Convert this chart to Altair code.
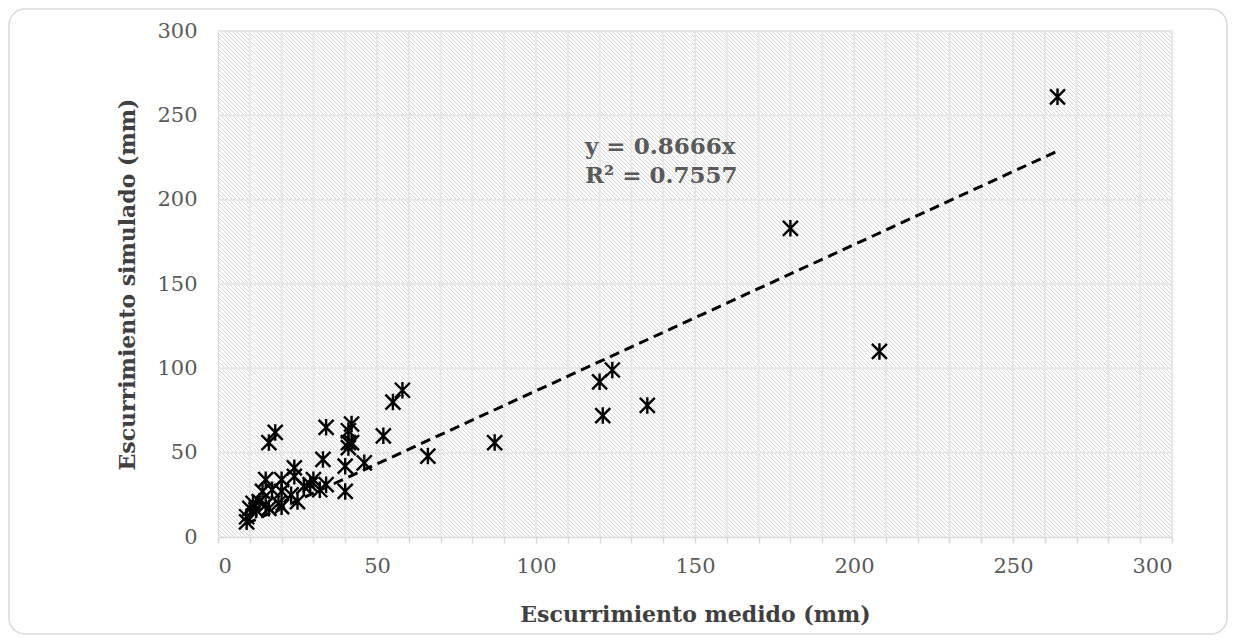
import altair as alt
import pandas as pd
import numpy as np

# Data
medido = [264, 180, 208, 120, 124, 121, 135, 87, 66, 58, 55, 52, 34, 42, 41, 41, 42, 41,
          33, 40, 46, 40, 18, 16, 24, 30, 34, 32, 24, 20, 15, 25, 23, 17, 14, 19, 16, 20,
          13, 11, 10, 9, 9, 12, 15, 20, 27, 29]
simulado = [261, 183, 110, 92, 99, 72, 78, 56, 48, 87, 80, 60, 65, 67, 63, 56, 56, 53,
            46, 42, 44, 27, 62, 56, 41, 34, 31, 28, 36, 34, 34, 21, 25, 28, 27, 20, 17, 18,
            21, 20, 17, 12, 9, 16, 19, 27, 30, 31]
slope = 0.8666
eq_text = ["y = 0.8666x", "R² = 0.7557"]
x_grid = list(range(10, 301, 10))
y_grid = list(range(50, 301, 50))
x_ticks = list(range(0, 301, 10))
y_ticks = list(range(0, 301, 50))

W, H = 954, 506
FONT = "DejaVu Serif"

pts = pd.DataFrame({"medido": medido, "simulado": simulado})
xmin, xmax = min(medido), max(medido)
trend = pd.DataFrame({"medido": [xmin, xmax], "simulado": [slope * xmin, slope * xmax]})

xs = alt.Scale(domain=[0, 300], nice=False)
ys = alt.Scale(domain=[0, 300], nice=False)

xaxis = alt.Axis(
    title="Escurrimiento medido (mm)", values=x_ticks,
    labelExpr="datum.value % 50 == 0 ? datum.label : ''",
    grid=False, domain=True, domainColor="#d9d9d9", domainWidth=1.5,
    ticks=True, tickColor="#d9d9d9", tickSize=6, tickWidth=1.5,
    labelPadding=12, labelFontSize=21, labelColor="#595959", labelFont=FONT,
    titleFont=FONT, titleFontSize=22, titleFontWeight="bold", titleColor="#404040",
    titlePadding=28,
)
yaxis = alt.Axis(
    title="Escurrimiento simulado (mm)", values=y_ticks,
    grid=False, domain=False, ticks=False,
    labelPadding=21, labelFontSize=21, labelColor="#595959", labelFont=FONT,
    titleFont=FONT, titleFontSize=22, titleFontWeight="bold", titleColor="#404040",
    titlePadding=17,
)

# hatch texture of the plot background (decoration)
px_per_x = W / 300.0
hatch_start = np.arange(-H / px_per_x, 300, 4 / px_per_x)
hatch = pd.DataFrame({"a": hatch_start, "b": hatch_start + H / px_per_x})

frame = alt.Chart(pd.DataFrame({"k": [0]})).mark_rect(
    fill=None, stroke="#d9d9d9", strokeWidth=1.5, cornerRadius=16
).encode(x=alt.value(-209), x2=alt.value(1009), y=alt.value(-22), y2=alt.value(603))

hatch_layer = alt.Chart(hatch).mark_rule(stroke="#d4d4d4", strokeWidth=1, clip=True).encode(
    x=alt.X("a:Q", scale=xs, axis=xaxis),
    x2="b:Q",
    y=alt.value(0),
    y2=alt.value(H),
)

vgrid = alt.Chart(pd.DataFrame({"g": x_grid})).mark_rule(stroke="#e6e6e6", strokeWidth=2).encode(
    x=alt.X("g:Q", scale=xs, axis=xaxis)
)
hgrid = alt.Chart(pd.DataFrame({"g": y_grid})).mark_rule(stroke="#e6e6e6", strokeWidth=2).encode(
    y=alt.Y("g:Q", scale=ys, axis=yaxis)
)

star = "M-1,-1L1,1M-1,1L1,-1M0,-1.1L0,1.1"

points = alt.Chart(pts).mark_point(
    shape=star, size=225, filled=False, stroke="black", strokeWidth=2.4, opacity=1
).encode(
    x=alt.X("medido:Q", scale=xs, axis=xaxis),
    y=alt.Y("simulado:Q", scale=ys, axis=yaxis),
)

trend_layer = alt.Chart(trend).mark_line(
    color="black", strokeWidth=3, strokeDash=[10, 6]
).encode(x=alt.X("medido:Q", scale=xs, axis=xaxis), y=alt.Y("simulado:Q", scale=ys, axis=yaxis))

eq1 = alt.Chart(pd.DataFrame({"t": [eq_text[0]]})).mark_text(
    align="left", baseline="middle", font=FONT, fontSize=23, fontWeight="bold", color="#595959"
).encode(text="t:N", x=alt.value(367), y=alt.value(116))
eq2 = alt.Chart(pd.DataFrame({"t": [eq_text[1]]})).mark_text(
    align="left", baseline="middle", font=FONT, fontSize=23, fontWeight="bold", color="#595959"
).encode(text="t:N", x=alt.value(367), y=alt.value(145))

chart = alt.layer(frame, hatch_layer, vgrid, hgrid, trend_layer, points, eq1, eq2).properties(
    width=W, height=H,
    autosize=alt.AutoSizeParams(type="none"),
    padding={"left": 210, "top": 23, "right": 56, "bottom": 98},
).configure_view(stroke=None).configure(background="white")

chart.save("out.html", embed_options={"renderer": "svg", "actions": False})
